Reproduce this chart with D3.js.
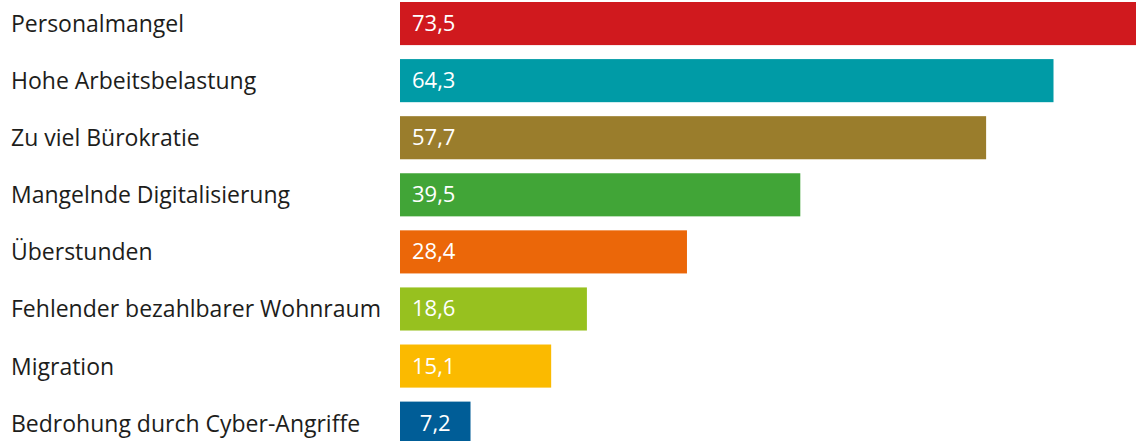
<!DOCTYPE html>
<html>
<head>
<meta charset="utf-8">
<script src="https://cdn.jsdelivr.net/npm/d3@7"></script>
<style>
  html, body { margin: 0; padding: 0; background: #ffffff; }
  svg { display: block; }
</style>
</head>
<body>
<svg id="chart" width="1136" height="441"></svg>
<script>
const categories = [
  "Personalmangel",
  "Hohe Arbeitsbelastung",
  "Zu viel Bürokratie",
  "Mangelnde Digitalisierung",
  "Überstunden",
  "Fehlender bezahlbarer Wohnraum",
  "Migration",
  "Bedrohung durch Cyber-Angriffe"
];
const values = [73.5, 64.3, 57.7, 39.5, 28.4, 18.6, 15.1, 7.2];
const colors = ["#D0191E", "#009BA6", "#9A7D2C", "#41A537", "#EB6709", "#97C11F", "#FBBA00", "#005D97"];

const data = categories.map((c, i) => ({ cat: c, val: values[i], color: colors[i] }));

const svg = d3.select("#chart");
const fontFamily = "'Open Sans', sans-serif";

const x = d3.scaleLinear().domain([0, 100]).range([397, 397 + 1021]);
const barLeft = 400;
const y = d3.scaleBand().domain(categories).range([2, 444.7]).paddingInner(0.245).paddingOuter(0);

const fmt = v => d3.format(".1f")(v).replace(".", ",");

svg.selectAll("rect.bar").data(data).join("rect")
  .attr("class", "bar")
  .attr("x", barLeft)
  .attr("y", d => y(d.cat))
  .attr("width", d => x(d.val) - barLeft)
  .attr("height", y.bandwidth())
  .attr("fill", d => d.color);

svg.selectAll("text.cat").data(data).join("text")
  .attr("class", "cat")
  .attr("x", 11)
  .attr("y", d => y(d.cat) + y.bandwidth() / 2 + 8.5)
  .attr("font-family", fontFamily)
  .attr("font-size", 23)
  .attr("fill", "#1d1d1b")
  .text(d => d.cat);

svg.selectAll("text.val").data(data).join("text")
  .attr("class", "val")
  .attr("x", d => (x(d.val) - barLeft) < 90 ? (barLeft + x(d.val)) / 2 : 412)
  .attr("text-anchor", d => (x(d.val) - barLeft) < 90 ? "middle" : "start")
  .attr("y", d => y(d.cat) + y.bandwidth() / 2 + 7.5)
  .attr("font-family", fontFamily)
  .attr("font-size", 22)
  .attr("fill", "#ffffff")
  .text(d => fmt(d.val));
</script>
</body>
</html>
